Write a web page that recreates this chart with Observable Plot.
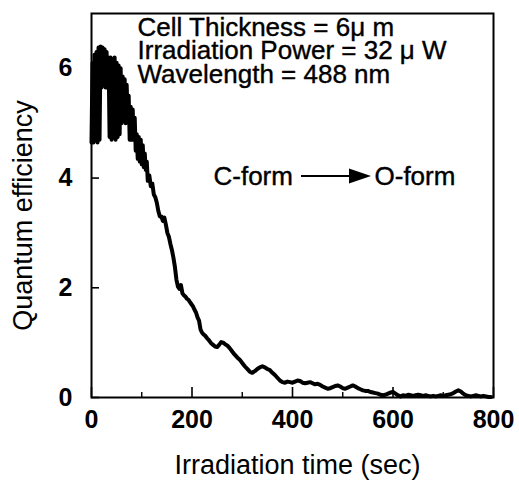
<!DOCTYPE html>
<html>
<head>
<meta charset="utf-8">
<script src="https://cdn.jsdelivr.net/npm/d3@7"></script>
<script src="https://cdn.jsdelivr.net/npm/@observablehq/plot@0.6"></script>
<style>
  html, body { margin: 0; padding: 0; background: #fff; }
</style>
</head>
<body>
<div id="chart"></div>
<script>
// Quantum efficiency trace: [time (sec), efficiency]
const trace = [
  [0,4.65],[2,6.1],[4,4.65],[6,6.25],[8,4.7],[10,6.3],[12,4.65],[14,6.38],[16,4.7],[18,6.4],
  [20,5.65],[22,6.38],[24,5.7],[26,6.35],[28,5.65],[30,6.3],[32,5.7],[34,6.2],[36,4.75],[38,6.2],
  [40,4.7],[42,6.15],[44,4.75],[46,6.2],[48,4.7],[50,6.1],[52,4.75],[54,6.05],[56,4.8],[58,6.0],
  [60,5.0],[62,5.85],[64,5.05],[66,5.8],[68,5.0],[70,5.7],[72,5.05],[74,5.5],[76,4.7],[78,5.3],
  [80,4.7],[82,5.25],[84,4.7],[86,5.1],[88,4.5],[90,4.8],[92,4.35],[94,4.75],[96,4.3],[98,4.7],
  [100,4.25],[102,4.6],[104,4.2],[106,4.45],[108,4.15],[110,4.3],
  [112,3.95],[115,4.05],[118,3.85],[121,3.9],[124,3.7],[127,3.65],[130,3.55],[133,3.4],[136,3.3],
  [139,3.3],[142,3.22],[145,3.28],[148,3.15],[151,3.0],[154,2.93],[157,2.8],[160,2.69],[163,2.55],
  [166,2.38],[169,2.15],[172,2.02],[175,1.98],[178,2.05],[181,1.9],[184,1.86],[187,1.84],[190,1.8],
  [193,1.78],[196,1.74],[199,1.7],[202,1.66],[205,1.6],[208,1.55],[211,1.46],[214,1.4],[217,1.24],
  [220,1.18],[223,1.15],[226,1.13],[230,1.08],[234,1.04],[238,0.99],[242,0.96],[246,0.93],[250,0.92],
  [254,0.96],[258,1.01],[262,1.0],[266,0.97],[270,0.95],[275,0.9],[280,0.84],[285,0.78],[290,0.73],
  [295,0.69],[300,0.63],[305,0.57],[310,0.52],[315,0.47],[320,0.45],[325,0.48],[330,0.52],[335,0.55],
  [340,0.57],[345,0.55],[350,0.52],[355,0.5],[360,0.45],[365,0.41],[370,0.36],[375,0.31],[380,0.28],
  [385,0.27],[390,0.29],[395,0.28],[400,0.27],[405,0.29],[410,0.31],[415,0.3],[420,0.27],[425,0.26],
  [430,0.27],[435,0.28],[440,0.26],[445,0.24],[450,0.25],[455,0.23],[460,0.2],[465,0.18],[470,0.16],
  [475,0.17],[480,0.19],[485,0.21],[490,0.22],[495,0.2],[500,0.17],[505,0.16],[510,0.18],[515,0.2],
  [520,0.22],[525,0.2],[530,0.17],[535,0.15],[540,0.13],[545,0.12],[550,0.12],[555,0.1],[560,0.09],
  [565,0.08],[570,0.07],[575,0.05],[580,0.04],[585,0.05],[590,0.07],[595,0.09],[600,0.1],[605,0.07],
  [610,0.04],[615,0.02],[620,0.04],[625,0.03],[630,0.05],[635,0.04],[640,0.03],[645,0.04],[650,0.05],
  [655,0.04],[660,0.03],[665,0.04],[670,0.03],[675,0.02],[680,0.03],[685,0.02],[690,0.03],[695,0.04],
  [700,0.03],[705,0.04],[710,0.05],[715,0.06],[720,0.08],[725,0.11],[730,0.13],[735,0.11],[740,0.07],
  [745,0.04],[750,0.03],[755,0.02],[760,0.03],[765,0.04],[770,0.03],[775,0.02],[780,0.03],[785,0.02],
  [790,0.01],[795,0.01]
];

const xTicks = [0, 200, 400, 600, 800];
const xMinorTicks = [100, 300, 500, 700];
const yTicks = [0, 2, 4, 6];

const xLabel = "Irradiation time (sec)";
const yLabel = "Quantum efficiency";
const conditions = [
  "Cell Thickness = 6\u03bc m",
  "Irradiation Power = 32 \u03bc W",
  "Wavelength = 488 nm"
];
const fromForm = "C-form";
const toForm = "O-form";

const FONT = "'Liberation Sans', Arial, Helvetica, sans-serif";

const arrowMark = (index, scales, values, dims) => {
  const g = d3.create("svg:g");
  const y = dims.marginTop + 163;
  const x0 = dims.marginLeft + 210;
  const x1 = dims.marginLeft + 258;
  const x2 = dims.marginLeft + 280;
  g.append("line").attr("x1", x0).attr("x2", x1 + 2).attr("y1", y).attr("y2", y)
    .attr("stroke", "black").attr("stroke-width", 2);
  g.append("path").attr("d", `M${x1},${y - 7.5}L${x2},${y}L${x1},${y + 7.5}Z`).attr("fill", "black");
  return g.node();
};

const textStyle = { fill: "black", stroke: "black", strokeWidth: 0.4 };

const chart = Plot.plot({
  width: 519,
  height: 483,
  marginLeft: 91,
  marginRight: 26,
  marginTop: 13,
  marginBottom: 86,
  style: { fontFamily: FONT, background: "#fff", color: "#000" },
  x: { domain: [0, 800] },
  y: { domain: [0, 7] },
  marks: [
    Plot.axisX({ ticks: xTicks, tickFormat: d => String(d), tickSize: 0, tickPadding: 13, fontSize: 25, fontWeight: "bold", label: null }),
    Plot.axisY({ ticks: yTicks, tickFormat: d => String(d), tickSize: 0, tickPadding: 19, fontSize: 25, fontWeight: "bold", label: null }),
    Plot.ruleX(xTicks, { x: d => d, insetTop: 374, stroke: "black", strokeWidth: 1.6 }),
    Plot.ruleX(xMinorTicks, { x: d => d, insetTop: 379, stroke: "black", strokeWidth: 1.4 }),
    Plot.ruleY(yTicks, { y: d => d, insetRight: 394, stroke: "black", strokeWidth: 1.6 }),
    Plot.line(trace, { x: d => d[0], y: d => d[1], stroke: "black", strokeWidth: 4, strokeLinejoin: "round", strokeLinecap: "round" }),
    Plot.frame({ stroke: "black", strokeWidth: 2 }),
    ...conditions.map((c, i) => Plot.text([c], {
      frameAnchor: "top-left", textAnchor: "start", lineAnchor: "middle",
      dx: 46, dy: 14 + i * 23.5, fontSize: 26, ...textStyle
    })),
    Plot.text([fromForm], { frameAnchor: "top-left", textAnchor: "start", lineAnchor: "middle", dx: 122, dy: 163, fontSize: 26, ...textStyle }),
    Plot.text([toForm], { frameAnchor: "top-left", textAnchor: "start", lineAnchor: "middle", dx: 283, dy: 163, fontSize: 26, ...textStyle }),
    arrowMark,
    Plot.text([xLabel], { frameAnchor: "bottom", textAnchor: "middle", lineAnchor: "middle", dx: 5, dy: 68, fontSize: 27, fill: "black" }),
    Plot.text([yLabel], { frameAnchor: "left", textAnchor: "middle", lineAnchor: "middle", rotate: -90, dx: -68, dy: 10, fontSize: 27, fill: "black" })
  ]
});

document.getElementById("chart").appendChild(chart);
</script>
</body>
</html>
